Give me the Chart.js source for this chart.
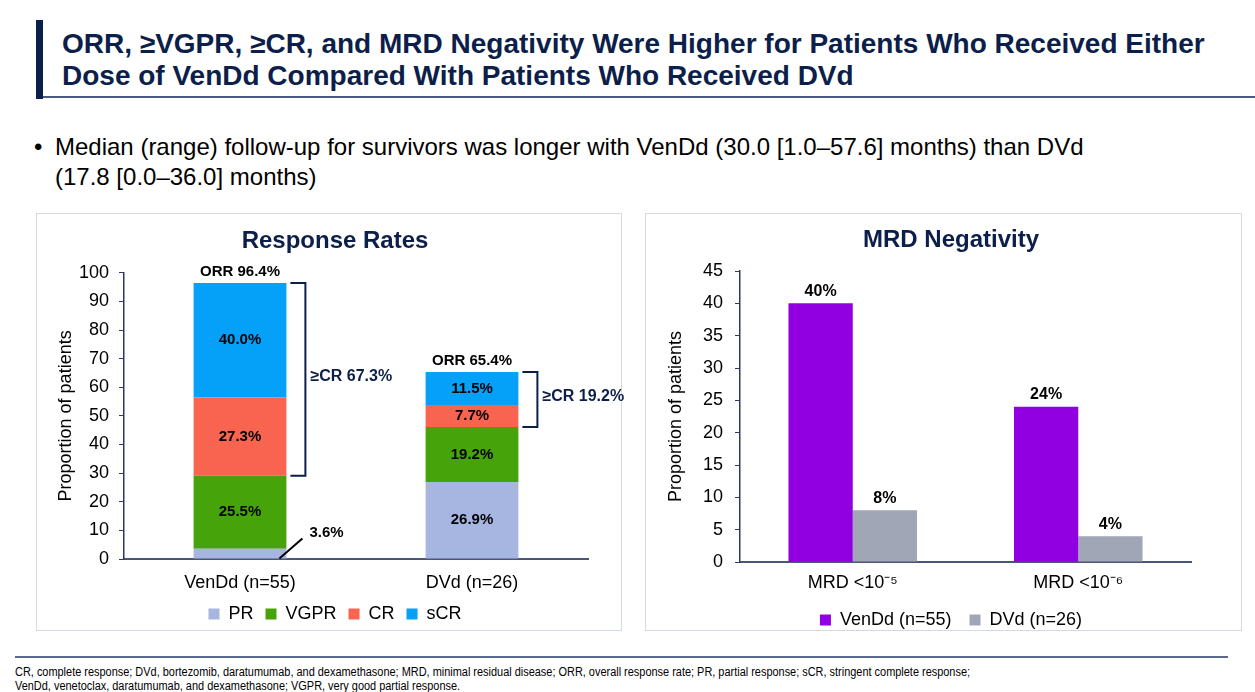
<!DOCTYPE html>
<html><head><meta charset="utf-8">
<script src="https://cdn.jsdelivr.net/npm/chart.js@4.4.1/dist/chart.umd.min.js"></script>
<style>
html,body{margin:0;padding:0;background:#fff;width:1255px;height:692px;overflow:hidden;font-family:"Liberation Sans",Arial,sans-serif;}
.abs{position:absolute;}
#vbar{left:36px;top:20px;width:7px;height:79px;background:#0c1e4a;}
#tline{left:43px;top:96px;width:1212px;height:2px;background:#4a5a80;}
#title{left:62px;top:28px;font-weight:bold;font-size:28px;line-height:32px;color:#0c1e4a;white-space:nowrap;}
#dot{left:34px;top:132px;font-size:24px;line-height:30px;color:#000;}
#bullet{left:55px;top:132px;font-size:24px;line-height:30px;color:#000;white-space:nowrap;}
.panel{border:1px solid #d5d9e1;box-sizing:border-box;}
#p1{left:36px;top:213px;width:586px;height:418px;}
#p2{left:645px;top:213px;width:597px;height:418px;}
#c1{left:37px;top:214px;}
#c2{left:646px;top:214px;}
#fline{left:15px;top:656px;width:1213px;height:2px;background:#5a6a8c;}
#foot{left:15px;top:665px;font-family:"Liberation Sans",Arial,sans-serif;font-size:12.5px;line-height:14px;color:#000;white-space:nowrap;transform:scaleX(0.875);transform-origin:0 0;}
</style></head>
<body>
<div class="abs" id="vbar"></div>
<div class="abs" id="tline"></div>
<div class="abs" id="title">ORR, ≥VGPR, ≥CR, and MRD Negativity Were Higher for Patients Who Received Either<br>Dose of VenDd Compared With Patients Who Received DVd</div>
<div class="abs" id="dot">•</div>
<div class="abs" id="bullet">Median (range) follow-up for survivors was longer with VenDd (30.0 [1.0–57.6] months) than DVd<br>(17.8 [0.0–36.0] months)</div>
<div class="abs panel" id="p1"></div>
<div class="abs panel" id="p2"></div>
<canvas class="abs" id="c1" width="596" height="419"></canvas>
<canvas class="abs" id="c2" width="610" height="425"></canvas>
<div class="abs" id="fline"></div>
<div class="abs" id="foot">CR, complete response; DVd, bortezomib, daratumumab, and dexamethasone; MRD, minimal residual disease; ORR, overall response rate; PR, partial response; sCR, stringent complete response;<br>VenDd, venetoclax, daratumumab, and dexamethasone; VGPR, very good partial response.</div>
<script>
// ---- data ----
const categories = ['VenDd (n=55)', 'DVd (n=26)'];
const prValues = [3.6, 26.9];
const vgprValues = [25.5, 19.2];
const crValues = [27.3, 7.7];
const scrValues = [40.0, 11.5];
const orrValues = [96.4, 65.4];
const geCrValues = [67.3, 19.2];
const responseTicks = [0, 10, 20, 30, 40, 50, 60, 70, 80, 90, 100];

const mrdCategories = ['MRD <10\u207B\u2075', 'MRD <10\u207B\u2076'];
const vendMrdValues = [40, 24];
const dvdMrdValues = [8, 4];
const mrdTicks = [0, 5, 10, 15, 20, 25, 30, 35, 40, 45];

const FF = '"Liberation Sans", Arial, sans-serif';
Chart.defaults.font.family = FF;
Chart.defaults.color = '#000';
const NAVY = '#0c1e4a';

const stackLabels = {
  id: 'stackLabels',
  afterDatasetsDraw(chart) {
    const ctx = chart.ctx;
    const y = chart.scales.y;
    ctx.save();
    ctx.font = 'bold 15px ' + FF;
    ctx.textBaseline = 'middle';
    chart.data.datasets.forEach((ds, di) => {
      const meta = chart.getDatasetMeta(di);
      meta.data.forEach((bar, i) => {
        const v = ds.data[i];
        const txt = v.toFixed(1) + '%';
        const h = bar.base - bar.y;
        ctx.fillStyle = '#000';
        if (h > 20) {
          ctx.textAlign = 'center';
          ctx.fillText(txt, bar.x, (bar.y + bar.base) / 2);
        } else {
          const x0 = bar.x + bar.width / 2 - 7;
          const y0 = bar.base;
          ctx.strokeStyle = '#000';
          ctx.lineWidth = 2;
          ctx.beginPath();
          ctx.moveTo(x0, y0);
          ctx.lineTo(x0 + 23, y0 - 20);
          ctx.stroke();
          ctx.textAlign = 'left';
          ctx.fillText(txt, x0 + 30, y0 - 26);
        }
      });
    });
    const topMeta = chart.getDatasetMeta(chart.data.datasets.length - 1);
    topMeta.data.forEach((bar, i) => {
      const total = prValues[i] + vgprValues[i] + crValues[i] + scrValues[i];
      const lower = prValues[i] + vgprValues[i];
      const yTop = y.getPixelForValue(total);
      const yBot = y.getPixelForValue(lower);
      ctx.font = 'bold 15px ' + FF;
      ctx.fillStyle = '#000';
      ctx.textAlign = 'center';
      ctx.fillText('ORR ' + orrValues[i].toFixed(1) + '%', bar.x, yTop - 11);
      const x0 = bar.x + bar.width / 2 + 4;
      const x1 = x0 + 15;
      ctx.strokeStyle = NAVY;
      ctx.lineWidth = 2;
      ctx.beginPath();
      ctx.moveTo(x0, yTop);
      ctx.lineTo(x1, yTop);
      ctx.lineTo(x1, yBot);
      ctx.lineTo(x0, yBot);
      ctx.stroke();
      ctx.font = 'bold 16px ' + FF;
      ctx.fillStyle = NAVY;
      ctx.textAlign = 'left';
      ctx.fillText('\u2265CR ' + geCrValues[i].toFixed(1) + '%', x1 + 5, (yTop + yBot) / 2 - 3);
    });
    ctx.restore();
  }
};

const topLabels = {
  id: 'topLabels',
  afterDatasetsDraw(chart) {
    const ctx = chart.ctx;
    ctx.save();
    ctx.font = 'bold 16px ' + FF;
    ctx.fillStyle = '#000';
    ctx.textAlign = 'center';
    ctx.textBaseline = 'middle';
    chart.data.datasets.forEach((ds, di) => {
      chart.getDatasetMeta(di).data.forEach((bar, i) => {
        ctx.fillText(ds.data[i] + '%', bar.x, bar.y - 12);
      });
    });
    ctx.restore();
  }
};

new Chart(document.getElementById('c1'), {
  type: 'bar',
  data: {
    labels: categories,
    datasets: [
      { label: 'PR', data: prValues, backgroundColor: '#a7b6e0' },
      { label: 'VGPR', data: vgprValues, backgroundColor: '#46a30a' },
      { label: 'CR', data: crValues, backgroundColor: '#f96450' },
      { label: 'sCR', data: scrValues, backgroundColor: '#05a0f8' }
    ]
  },
  options: {
    responsive: false, animation: false,
    layout: { padding: 0 },
    datasets: { bar: { barPercentage: 0.4, categoryPercentage: 1.0, borderWidth: 0 } },
    plugins: {
      title: { display: true, text: 'Response Rates', color: NAVY, font: { size: 24, weight: 'bold' }, padding: { top: 13, bottom: 17 } },
      legend: { position: 'bottom', labels: { boxWidth: 11, boxHeight: 11, font: { size: 18 }, color: '#000', padding: 12 } },
      tooltip: { enabled: false }
    },
    scales: {
      x: { stacked: true, grid: { display: false, drawTicks: false }, border: { color: '#4a5675', width: 2 },
           ticks: { font: { size: 18 }, color: '#000', padding: 13 }, afterFit(s) { s.height = 34; } },
      y: { stacked: true, min: 0, max: 100,
           afterBuildTicks(s) { s.ticks = responseTicks.map(v => ({ value: v })); },
           ticks: { font: { size: 18 }, color: '#000', padding: 10 },
           grid: { drawOnChartArea: false, drawTicks: true, tickLength: 5, color: '#2e3b5e' },
           border: { color: '#2e3b5e', width: 1.5 },
           title: { display: true, text: 'Proportion of patients', font: { size: 18 }, color: '#000', padding: { top: 18, bottom: 0 } },
           afterFit(s) { s.width = 87; } },
      pad: { position: 'right', display: true, grid: { display: false }, border: { display: false }, ticks: { display: false }, afterFit(s) { s.width = 45; } }
    }
  },
  plugins: [stackLabels]
});

new Chart(document.getElementById('c2'), {
  type: 'bar',
  data: {
    labels: mrdCategories,
    datasets: [
      { label: 'VenDd (n=55)', data: vendMrdValues, backgroundColor: '#9000e0' },
      { label: 'DVd (n=26)', data: dvdMrdValues, backgroundColor: '#a1a6b6' }
    ]
  },
  options: {
    responsive: false, animation: false,
    layout: { padding: 0 },
    datasets: { bar: { barPercentage: 1.0, categoryPercentage: 0.57, borderWidth: 0 } },
    plugins: {
      title: { display: true, text: 'MRD Negativity', color: NAVY, font: { size: 24, weight: 'bold' }, padding: { top: 11.6, bottom: 16.6 } },
      legend: { position: 'bottom', labels: { boxWidth: 11, boxHeight: 11, font: { size: 18 }, color: '#000', padding: 18 } },
      tooltip: { enabled: false }
    },
    scales: {
      x: { grid: { display: false, drawTicks: false }, border: { color: '#4a5675', width: 2 },
           ticks: { font: { size: 18 }, color: '#000', padding: 10 }, afterFit(s) { s.height = 31; } },
      y: { min: 0, max: 45,
           afterBuildTicks(s) { s.ticks = mrdTicks.map(v => ({ value: v })); },
           ticks: { font: { size: 18 }, color: '#000', padding: 12 },
           grid: { drawOnChartArea: false, drawTicks: true, tickLength: 5, color: '#2e3b5e' },
           border: { color: '#2e3b5e', width: 1.5 },
           title: { display: true, text: 'Proportion of patients', font: { size: 18 }, color: '#000', padding: { top: 19, bottom: 0 } },
           afterFit(s) { s.width = 94; } },
      pad: { position: 'right', display: true, grid: { display: false }, border: { display: false }, ticks: { display: false }, afterFit(s) { s.width = 65; } }
    }
  },
  plugins: [topLabels]
});
</script>
</body></html>
